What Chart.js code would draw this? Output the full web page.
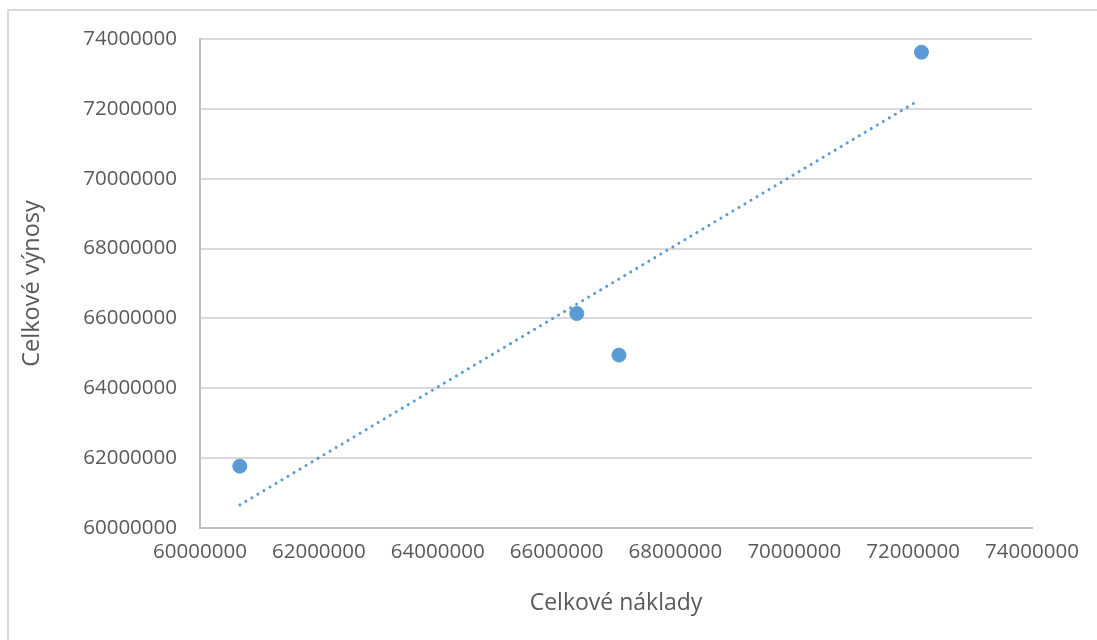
<!DOCTYPE html>
<html>
<head>
<meta charset="utf-8">
<script src="https://cdn.jsdelivr.net/npm/chart.js@4/dist/chart.umd.min.js"></script>
<style>
  html, body { margin: 0; padding: 0; background: #fff; }
  #wrap { position: relative; width: 1097px; height: 640px; }
  #frame {
    position: absolute; left: 7px; top: 9px; right: 0; bottom: 0;
    border-top: 2px solid #d9d9d9; border-left: 2px solid #d9d9d9;
    pointer-events: none;
  }
  canvas { position: absolute; left: 0; top: 0; }
</style>
</head>
<body>
<div id="wrap">
  <canvas id="chart" width="1097" height="640"></canvas>
  <div id="frame"></div>
</div>
<script>
// values
const costs = [60670000, 66340000, 67050000, 72140000];     // Celkové náklady
const revenues = [61770000, 66140000, 64950000, 73620000];  // Celkové výnosy
// linear trendline end points (as drawn in the picture)
const trendX = [60670000, 72050000];
const trendY = [60660000, 72200000];
// axis ticks
const axisMin = 60000000;
const axisMax = 74000000;
const axisStep = 2000000;

const blue = '#5b9bd5';
const textColor = '#595959';
const fontFamily = "'Open Sans', 'DejaVu Sans', sans-serif";

const points = costs.map((x, i) => ({ x: x, y: revenues[i] }));
const trend = trendX.map((x, i) => ({ x: x, y: trendY[i] }));

const ctx = document.getElementById('chart').getContext('2d');
new Chart(ctx, {
  type: 'scatter',
  data: {
    datasets: [
      {
        label: 'Data',
        data: points,
        backgroundColor: blue,
        borderColor: blue,
        pointRadius: 7,
        borderWidth: 1
      },
      {
        label: 'Trend',
        type: 'line',
        data: trend,
        borderColor: blue,
        borderWidth: 3,
        borderDash: [0.1, 6.9],
        borderCapStyle: 'round',
        pointRadius: 0,
        fill: false
      }
    ]
  },
  options: {
    responsive: false,
    animation: false,
    layout: { padding: { top: 39, right: 65, bottom: 0, left: 0 } },
    plugins: {
      legend: { display: false },
      tooltip: { enabled: false }
    },
    scales: {
      x: {
        type: 'linear',
        min: axisMin,
        max: axisMax,
        ticks: {
          stepSize: axisStep,
          color: textColor,
          font: { family: fontFamily, size: 20.5 },
          padding: 12,
          maxRotation: 0,
          callback: (v) => String(v)
        },
        grid: { display: false, drawTicks: false },
        border: { display: true, color: '#bfbfbf', width: 2 },
        title: {
          display: true,
          text: 'Celkové náklady',
          color: textColor,
          font: { family: fontFamily, size: 23 },
          padding: { top: 0, bottom: 23 }
        },
        afterFit: (scale) => { scale.height = 112; }
      },
      y: {
        type: 'linear',
        min: axisMin,
        max: axisMax,
        ticks: {
          stepSize: axisStep,
          color: textColor,
          font: { family: fontFamily, size: 20.5 },
          padding: 23,
          callback: (v) => String(v)
        },
        grid: { color: '#d9d9d9', lineWidth: 2, drawTicks: false },
        border: { display: true, color: '#bfbfbf', width: 2 },
        title: {
          display: true,
          text: 'Celkové výnosy',
          color: textColor,
          font: { family: fontFamily, size: 23.5 },
          padding: { top: 18, bottom: 0 }
        },
        afterFit: (scale) => { scale.width = 200; }
      }
    }
  }
});
</script>
</body>
</html>
